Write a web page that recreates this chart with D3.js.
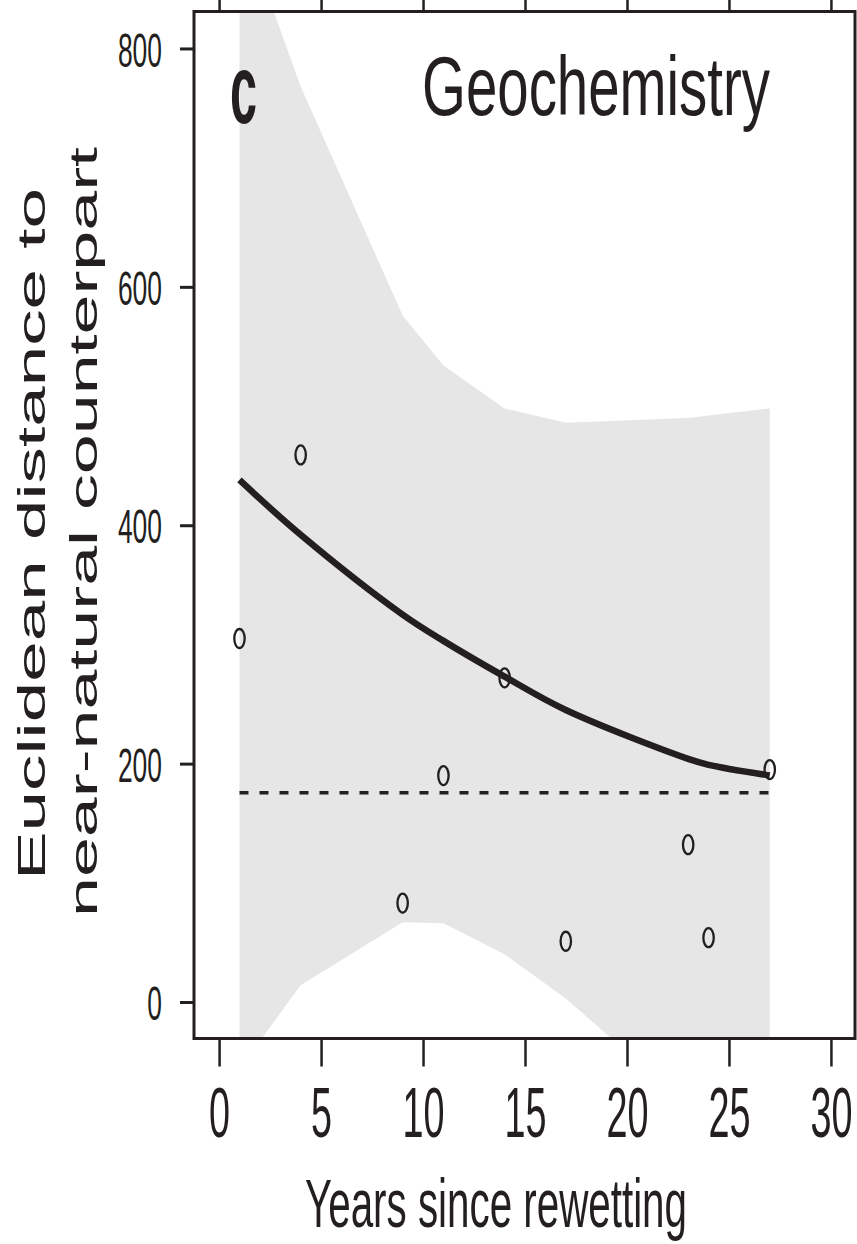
<!DOCTYPE html>
<html>
<head>
<meta charset="utf-8">
<script src="https://cdn.jsdelivr.net/npm/d3@7/dist/d3.min.js"></script>
<style>
  body { margin: 0; background: #fff; }
  svg { display: block; }
  text { font-family: "Liberation Sans", Arial, Helvetica, sans-serif; fill: #231f20; }
</style>
</head>
<body>
<svg id="chart" width="857" height="1244"></svg>
<script>
// Observed sites: years since rewetting and distance to near-natural counterpart
const siteYears = [1, 4, 9, 11, 14, 17, 23, 24, 27];
const siteDistance = [305, 459, 83, 190, 272, 51, 132, 54, 195];

// Fitted trend with its confidence band, evaluated at the site years
const fitYears = [1, 4, 9, 11, 14, 17, 23, 24, 27];
const fitValue = [438, 392, 325, 303, 273, 245, 204, 199, 190];
const fitLower = [-56, 14, 67, 66, 40, 3, -87, -100, -135];
const fitUpper = [911, 768, 576, 534, 498, 486, 490, 492, 498];

// Reference level (dashed)
const referenceLevel = 175.5;

const xTicks = [0, 5, 10, 15, 20, 25, 30];
const yTicks = [0, 200, 400, 600, 800];

const panelLetter = "c";
const panelTitle = "Geochemistry";
const xTitle = "Years since rewetting";
const yTitleLines = ["Euclidean distance to", "near-natural counterpart"];

const ink = "#231f20";
const bandFill = "#e6e6e6";

const plot = { left: 194, right: 855, top: 11.5, bottom: 1038.5 };

const x = d3.scaleLinear().domain([-1.23, 31.18]).range([plot.left, plot.right]);
const y = d3.scaleLinear().domain([-30.6, 831]).range([plot.bottom, plot.top]);

const svg = d3.select("#chart");

svg.append("defs").append("clipPath").attr("id", "plot-clip")
  .append("rect")
  .attr("x", plot.left).attr("y", plot.top)
  .attr("width", plot.right - plot.left).attr("height", plot.bottom - plot.top);

const inner = svg.append("g").attr("clip-path", "url(#plot-clip)");

// Confidence band
const band = fitYears.map((yr, i) => ({ yr, lo: fitLower[i], hi: fitUpper[i] }));
inner.append("path")
  .datum(band)
  .attr("fill", bandFill)
  .attr("d", d3.area().x(d => x(d.yr)).y0(d => y(d.lo)).y1(d => y(d.hi)));

// Dashed reference level across the observed range
inner.append("line")
  .attr("x1", x(d3.min(siteYears))).attr("x2", x(d3.max(siteYears)))
  .attr("y1", y(referenceLevel)).attr("y2", y(referenceLevel))
  .attr("stroke", ink).attr("stroke-width", 3.5)
  .attr("stroke-dasharray", "9,11");

// Fitted trend
const fit = fitYears.map((yr, i) => ({ yr, v: fitValue[i] }));
inner.append("path")
  .datum(fit)
  .attr("fill", "none")
  .attr("stroke", ink)
  .attr("stroke-width", 6.5)
  .attr("stroke-linejoin", "round")
  .attr("d", d3.line().x(d => x(d.yr)).y(d => y(d.v)).curve(d3.curveCatmullRom));

// Site points
inner.selectAll("ellipse.site")
  .data(siteYears.map((yr, i) => ({ yr, v: siteDistance[i] })))
  .join("ellipse")
  .attr("class", "site")
  .attr("cx", d => x(d.yr)).attr("cy", d => y(d.v))
  .attr("rx", 5.2).attr("ry", 9.5)
  .attr("fill", "none").attr("stroke", ink).attr("stroke-width", 2.3);

// Axes
const yAxis = svg.append("g")
  .attr("transform", `translate(${plot.left},0)`)
  .call(d3.axisLeft(y).tickValues(yTicks).tickSize(14).tickPadding(18).tickFormat(d3.format("d")));
yAxis.select(".domain").remove();
yAxis.selectAll(".tick line").attr("stroke", ink).attr("stroke-width", 3);
yAxis.selectAll(".tick text")
  .attr("font-size", 49).attr("dy", "0.36em")
  .attr("textLength", d => 14.7 * String(d).length)
  .attr("lengthAdjust", "spacingAndGlyphs");

const xAxis = svg.append("g")
  .attr("transform", `translate(0,${plot.bottom})`)
  .call(d3.axisBottom(x).tickValues(xTicks).tickSize(28).tickPadding(20.5).tickFormat(d3.format("d")));
xAxis.select(".domain").remove();
xAxis.selectAll(".tick line").attr("stroke", ink).attr("stroke-width", 2.5);
xAxis.selectAll(".tick text")
  .attr("font-size", 71)
  .attr("textLength", d => 21 * String(d).length)
  .attr("lengthAdjust", "spacingAndGlyphs");

const xTop = svg.append("g")
  .attr("transform", `translate(0,${plot.top})`)
  .call(d3.axisTop(x).tickValues(xTicks).tickSize(28).tickFormat(""));
xTop.select(".domain").remove();
xTop.selectAll(".tick line").attr("stroke", ink).attr("stroke-width", 2.5);

svg.selectAll(".tick text").attr("fill", ink).attr("font-family", null);

// Plot frame
svg.append("rect")
  .attr("x", plot.left).attr("y", plot.top)
  .attr("width", plot.right - plot.left).attr("height", plot.bottom - plot.top)
  .attr("fill", "none").attr("stroke", ink).attr("stroke-width", 3);

// Panel letter and title
svg.append("text")
  .attr("x", 230).attr("y", 123)
  .attr("font-size", 98).attr("font-weight", "bold")
  .attr("textLength", 27).attr("lengthAdjust", "spacingAndGlyphs")
  .text(panelLetter);

svg.append("text")
  .attr("x", 422).attr("y", 115)
  .attr("font-size", 83)
  .attr("textLength", 348).attr("lengthAdjust", "spacingAndGlyphs")
  .text(panelTitle);

// Axis titles
svg.append("text")
  .attr("x", 496).attr("y", 1227)
  .attr("text-anchor", "middle")
  .attr("font-size", 68)
  .attr("textLength", 382).attr("lengthAdjust", "spacingAndGlyphs")
  .text(xTitle);

const yTitleSpecs = [
  { bx: 45, cy: 534, len: 692 },
  { bx: 97, cy: 532, len: 770 }
];
yTitleLines.forEach((line, i) => {
  const s = yTitleSpecs[i];
  svg.append("text")
    .attr("transform", `translate(${s.bx},${s.cy}) rotate(-90)`)
    .attr("text-anchor", "middle")
    .attr("font-size", 39)
    .attr("textLength", s.len).attr("lengthAdjust", "spacingAndGlyphs")
    .text(line);
});
</script>
</body>
</html>
